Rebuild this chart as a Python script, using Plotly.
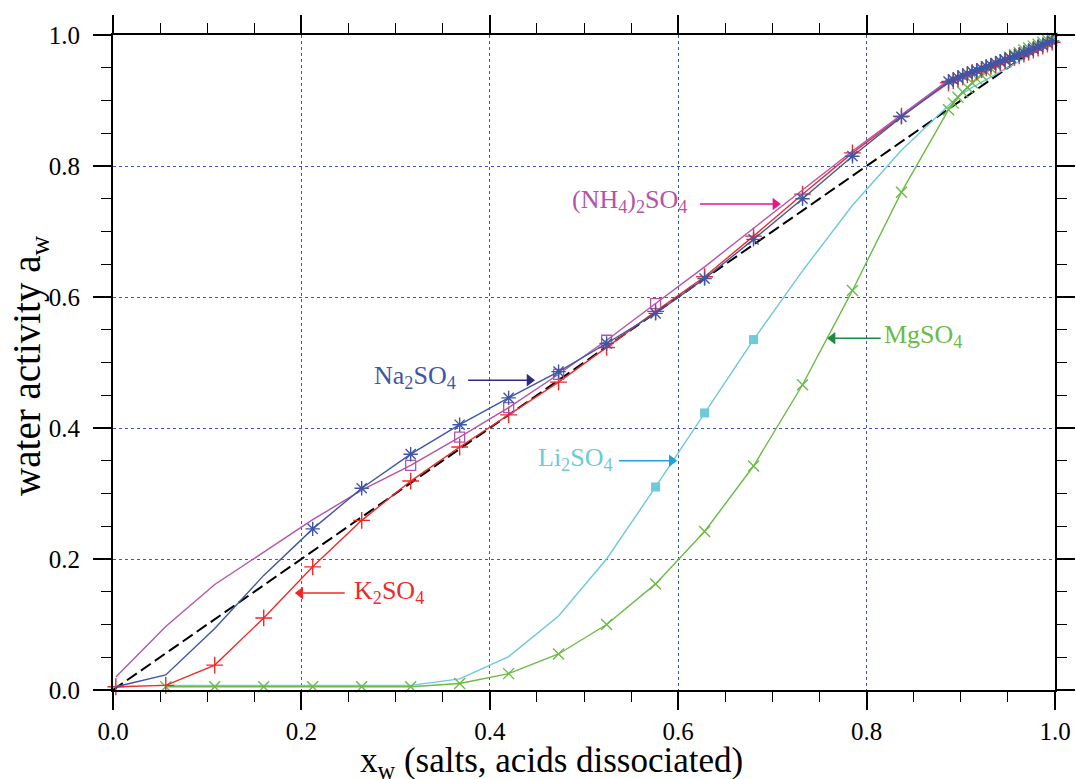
import numpy as np
import plotly.graph_objects as go

# ---------------- data ----------------
X_MAIN = [0.003, 0.056, 0.108, 0.160, 0.212, 0.264, 0.316, 0.368, 0.420, 0.473,
          0.524, 0.576, 0.628, 0.680, 0.732, 0.785, 0.837]
X_DENSE = [0.887, 0.892, 0.897, 0.902, 0.907, 0.912, 0.917, 0.922, 0.927, 0.932,
           0.937, 0.942, 0.947, 0.952, 0.957, 0.962, 0.967, 0.972, 0.977, 0.982,
           0.987, 0.992, 0.997]

k2so4_y = [0.005, 0.007, 0.038, 0.110, 0.188, 0.259, 0.319, 0.371, 0.420, 0.470,
           0.523, 0.578, 0.631, 0.693, 0.757, 0.820, 0.876]
k2so4_dense = [0.927, 0.930, 0.933, 0.936, 0.939, 0.942, 0.944, 0.947, 0.950, 0.952,
               0.955, 0.958, 0.960, 0.963, 0.966, 0.968, 0.971, 0.974, 0.977, 0.980,
               0.983, 0.986, 0.989]

na2so4_y = [0.005, 0.023, 0.094, 0.175, 0.246, 0.308, 0.360, 0.405, 0.446, 0.486,
            0.529, 0.575, 0.628, 0.688, 0.750, 0.815, 0.875]
na2so4_dense = [0.929, 0.932, 0.935, 0.938, 0.941, 0.944, 0.946, 0.949, 0.952, 0.954,
                0.957, 0.960, 0.962, 0.965, 0.968, 0.970, 0.973, 0.976, 0.979, 0.982,
                0.985, 0.988, 0.991]

nh4_y = [0.020, 0.097, 0.161, 0.211, 0.260, 0.305, 0.343, 0.386, 0.431, 0.482,
         0.534, 0.590, 0.646, 0.705, 0.764, 0.823, 0.878]
nh4_dense = [0.931, 0.934, 0.937, 0.940, 0.943, 0.946, 0.948, 0.951, 0.954, 0.956,
             0.959, 0.962, 0.964, 0.967, 0.970, 0.972, 0.975, 0.978, 0.981, 0.984,
             0.987, 0.990, 0.993]

X_LOW = [0.056, 0.108, 0.160, 0.212, 0.264, 0.316, 0.368, 0.420, 0.473,
         0.524, 0.576, 0.628, 0.680, 0.732, 0.785, 0.837]
li2so4_y = [0.007, 0.007, 0.007, 0.007, 0.007, 0.007, 0.017, 0.051, 0.113,
            0.200, 0.310, 0.423, 0.535, 0.640, 0.740, 0.824]
li2so4_dense = [0.893, 0.900, 0.906, 0.911, 0.916, 0.920, 0.924, 0.928, 0.932, 0.936,
                0.940, 0.944, 0.948, 0.952, 0.956, 0.960, 0.964, 0.968, 0.972, 0.976,
                0.980, 0.984, 0.988]

mgso4_y = [0.005, 0.005, 0.005, 0.005, 0.005, 0.005, 0.010, 0.025, 0.055,
           0.100, 0.162, 0.242, 0.342, 0.466, 0.610, 0.760]
mgso4_dense = [0.886, 0.896, 0.905, 0.913, 0.920, 0.927, 0.933, 0.939, 0.944, 0.949,
               0.954, 0.958, 0.962, 0.966, 0.970, 0.973, 0.977, 0.980, 0.983, 0.986,
               0.989, 0.992, 0.995]

IDEAL_X = [0.0, 1.0]
IDEAL_Y = [0.0, 1.0]

X_TICKS = [0.0, 0.2, 0.4, 0.6, 0.8, 1.0]
Y_TICKS = [0.0, 0.2, 0.4, 0.6, 0.8, 1.0]

LABEL_TEXT = ["K<sub>2</sub>SO<sub>4</sub>", "Na<sub>2</sub>SO<sub>4</sub>",
              "(NH<sub>4</sub>)<sub>2</sub>SO<sub>4</sub>", "Li<sub>2</sub>SO<sub>4</sub>",
              "MgSO<sub>4</sub>"]
X_TITLE = "x<sub>w</sub> (salts, acids dissociated)"
Y_TITLE = "water activity a<sub>w</sub>"

# ---------------- styles ----------------
RED = "#ee2a2a"
BLUE = "#3f56a6"
MAG = "#b255aa"
CYAN = "#6ccada"
GREEN = "#6bbb45"
FONT = "Liberation Serif"

fig = go.Figure()

fig.add_trace(go.Scatter(x=IDEAL_X, y=IDEAL_Y, mode="lines",
                         line=dict(color="black", width=2, dash="12px,5px")))


def series(x, y, color, symbol, msize, mask_fn, mline=1.4):
    x = np.array(x)
    y = np.array(y)
    fig.add_trace(go.Scatter(x=x, y=y, mode="lines",
                             line=dict(color=color, width=1.4), cliponaxis=False))
    m = mask_fn(x)
    marker = dict(symbol=symbol, size=msize, color=color,
                  line=dict(color=color, width=mline))
    fig.add_trace(go.Scatter(x=x[m], y=y[m], mode="markers", marker=marker,
                             cliponaxis=False))


series(X_LOW + X_DENSE, li2so4_y + li2so4_dense, CYAN, "square", 9,
       lambda x: (x > 0.55) & (x < 0.7), mline=0)
series(X_LOW + X_DENSE, mgso4_y + mgso4_dense, GREEN, "x-thin-open", 11,
       lambda x: x > 0)
series(X_MAIN + X_DENSE, k2so4_y + k2so4_dense, RED, "cross-thin-open", 12,
       lambda x: x >= 0)
series(X_MAIN + X_DENSE, nh4_y + nh4_dense, MAG, "square-open", 10,
       lambda x: (x > 0.3) & (x < 0.6), mline=1.3)
series(X_MAIN + X_DENSE, na2so4_y + na2so4_dense, BLUE, "asterisk-open", 12,
       lambda x: x > 0.2)

# ---------------- labels & arrows ----------------
PX_PER_X = 942.0
label_layout = [
    # text x, text y, anchor, tail x, head x, arrow y, text colour, arrow colour
    (0.254, 0.150, "left", 0.246, 0.193, 0.148, "#ee2a2a", "#ee2a2a"),
    (0.366, 0.478, "right", 0.377, 0.448, 0.473, "#3f56a6", "#2b2d83"),
    (0.611, 0.746, "right", 0.623, 0.709, 0.742, "#b255aa", "#e5178b"),
    (0.533, 0.353, "right", 0.537, 0.599, 0.350, "#6ccada", "#1fa3dc"),
    (0.816, 0.540, "left", 0.815, 0.758, 0.537, "#6bbb45", "#1b8b45"),
]
HEAD = 11
for text, (tx, ty, anchor, ax, hx, ay, tcol, acol) in zip(LABEL_TEXT, label_layout):
    d = 1 if hx > ax else -1
    fig.add_shape(type="line", x0=ax, x1=hx - d * 4 / PX_PER_X, y0=ay, y1=ay,
                  xref="x", yref="y", line=dict(color=acol, width=1.5))
    fig.add_trace(go.Scatter(
        x=[hx - d * (HEAD / 2) / PX_PER_X], y=[ay], mode="markers", cliponaxis=False,
        marker=dict(symbol="triangle-right" if d > 0 else "triangle-left",
                    size=HEAD, color=acol, line=dict(width=0))))
    fig.add_annotation(x=tx, y=ty, xref="x", yref="y", text=text, showarrow=False,
                       xanchor=anchor, yanchor="middle",
                       font=dict(family=FONT, size=26, color=tcol))

# axis titles
fig.add_annotation(x=0.465, y=-0.110, xref="paper", yref="paper", showarrow=False,
                   text=X_TITLE, xanchor="center", yanchor="middle",
                   font=dict(family=FONT, size=35, color="black"))
fig.add_annotation(x=-0.088, y=0.495, xref="paper", yref="paper", showarrow=False,
                   text=Y_TITLE, textangle=-90, xanchor="center", yanchor="middle",
                   font=dict(family=FONT, size=39, color="black"))

axis_common = dict(
    range=[0, 1], showline=True, linecolor="black", linewidth=2, mirror="allticks",
    ticks="outside", ticklen=18, tickwidth=1.6, tickcolor="black",
    tickfont=dict(family=FONT, size=25, color="black"),
    showgrid=True, gridcolor="#3a5bb5", gridwidth=1.2, griddash="dot",
    zeroline=False, tickformat=".1f",
    minor=dict(dtick=0.05, ticks="outside", ticklen=10, tickwidth=1.4,
               tickcolor="black", showgrid=False),
)

fig.update_xaxes(**axis_common, tickvals=X_TICKS)
fig.update_yaxes(**axis_common, tickvals=Y_TICKS, ticklabelstandoff=8)

fig.update_layout(
    width=1076, height=779,
    margin=dict(l=113, r=21, t=35, b=89, autoexpand=False),
    plot_bgcolor="white", paper_bgcolor="white",
    font=dict(family=FONT, color="black"),
    showlegend=False,
)

fig.write_html("out.html")
